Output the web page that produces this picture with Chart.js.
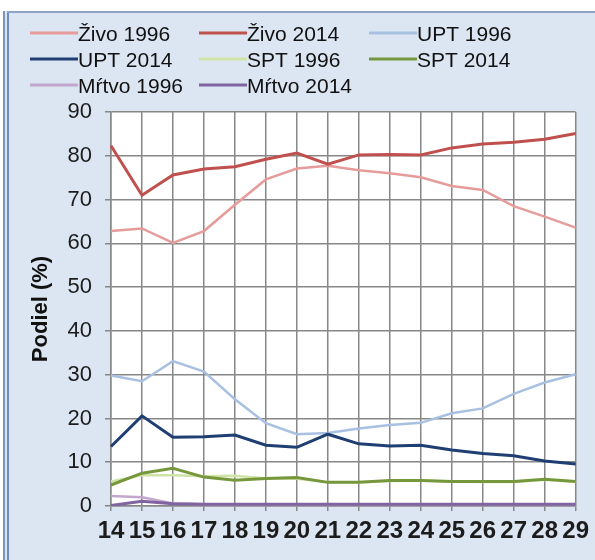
<!DOCTYPE html>
<html>
<head>
<meta charset="utf-8">
<script src="https://cdn.jsdelivr.net/npm/chart.js@4/dist/chart.umd.min.js"></script>
<style>
  html, body { margin: 0; padding: 0; background: #fff; }
  #wrap { width: 595px; height: 560px; position: relative; }
</style>
</head>
<body>
<div id="wrap"><canvas id="chart" width="595" height="560"></canvas></div>
<script>
// vek (roky) na osi x
const ages = ['14','15','16','17','18','19','20','21','22','23','24','25','26','27','28','29'];

const zivo1996  = [62.8, 63.4, 60.1, 62.8, 68.8, 74.6, 77.1, 77.7, 76.7, 76.0, 75.1, 73.1, 72.2, 68.5, 66.1, 63.6];
const zivo2014  = [82.3, 71.0, 75.6, 77.0, 77.5, 79.2, 80.6, 78.1, 80.2, 80.3, 80.2, 81.8, 82.7, 83.1, 83.8, 85.1];
const upt1996   = [29.8, 28.5, 33.1, 30.7, 24.4, 18.9, 16.4, 16.7, 17.7, 18.5, 19.0, 21.2, 22.3, 25.6, 28.2, 30.1];
const upt2014   = [13.6, 20.6, 15.7, 15.8, 16.2, 13.9, 13.4, 16.4, 14.2, 13.7, 13.9, 12.8, 12.0, 11.5, 10.3, 9.6];
const spt1996   = [5.6, 7.0, 7.0, 6.8, 6.9, 6.3, 6.2, 5.5, 5.4, 5.7, 5.8, 5.6, 5.5, 5.5, 6.0, 5.6];
const spt2014   = [4.8, 7.5, 8.6, 6.6, 5.9, 6.3, 6.5, 5.4, 5.4, 5.8, 5.8, 5.6, 5.6, 5.6, 6.1, 5.6];
const mrtvo1996 = [2.3, 2.0, 0.6, 0.4, 0.4, 0.4, 0.4, 0.4, 0.4, 0.4, 0.4, 0.4, 0.4, 0.4, 0.4, 0.4];
const mrtvo2014 = [0.1, 1.1, 0.5, 0.4, 0.4, 0.4, 0.4, 0.4, 0.4, 0.4, 0.4, 0.4, 0.4, 0.4, 0.4, 0.4];

const seriesNames = ['Živo 1996', 'Živo 2014', 'UPT 1996', 'UPT 2014', 'SPT 1996', 'SPT 2014', 'Mŕtvo 1996', 'Mŕtvo 2014'];
const seriesData = [zivo1996, zivo2014, upt1996, upt2014, spt1996, spt2014, mrtvo1996, mrtvo2014];
const colors = ['#e59c9a', '#c0504d', '#a8c0e2', '#1f3f72', '#cfe3a6', '#77973d', '#c2a6cd', '#8064a2'];
const widths = [2.5, 3, 2.5, 3, 2.5, 3, 2.5, 3];

const FONT = "'Liberation Sans', Arial, sans-serif";

// ram a svetlomodre pozadie grafu, biela plocha grafu
const framePlugin = {
  id: 'frame',
  beforeDraw(chart) {
    const c = chart.ctx;
    const a = chart.chartArea;
    c.save();
    c.fillStyle = '#ffffff';
    c.fillRect(0, 0, chart.width, chart.height);
    c.fillStyle = '#dce6f2';
    c.fillRect(3, 11, chart.width - 3, chart.height - 11);
    c.fillStyle = '#7b95c2';
    c.fillRect(3, 11, 2, chart.height - 11);
    c.fillStyle = '#6f8cbf';
    c.fillRect(7, 11, 2, chart.height - 11);
    c.fillStyle = '#8ea3c6';
    c.fillRect(7, 11, chart.width - 7, 2);
    c.fillStyle = '#ffffff';
    c.fillRect(a.left, a.top, a.right - a.left, a.bottom - a.top);
    c.restore();
  }
};

// legenda v troch stlpcoch
const legendPlugin = {
  id: 'gridLegend',
  afterDraw(chart) {
    const c = chart.ctx;
    const colX = [30, 199, 369];
    const rowY = [34, 60, 86];
    c.save();
    c.font = '21px ' + FONT;
    c.textBaseline = 'middle';
    c.fillStyle = '#111';
    chart.data.datasets.forEach((ds, i) => {
      const x = colX[i % 3];
      const y = rowY[Math.floor(i / 3)];
      c.strokeStyle = ds.borderColor;
      c.lineWidth = 3;
      c.beginPath();
      c.moveTo(x, y - 1);
      c.lineTo(x + 48, y - 1);
      c.stroke();
      c.fillText(ds.label, x + 48, y + 1);
    });
    c.restore();
  }
};

const ctx = document.getElementById('chart').getContext('2d');
const chart = new Chart(ctx, {
  type: 'line',
  data: {
    labels: ages,
    datasets: seriesData.map((d, i) => ({
      label: seriesNames[i],
      data: d,
      borderColor: colors[i],
      backgroundColor: colors[i],
      borderWidth: widths[i],
      pointRadius: 0,
      tension: 0,
      fill: false,
      order: seriesData.length - i
    }))
  },
  options: {
    responsive: false,
    animation: false,
    events: [],
    layout: { padding: { left: 8, top: 112, right: 16, bottom: 0 } },
    plugins: {
      legend: { display: false },
      tooltip: { enabled: false }
    },
    scales: {
      x: {
        offset: false,
        grid: { color: '#878787', lineWidth: 1.5, tickLength: 5, drawTicks: true },
        border: { color: '#878787', width: 1.5 },
        ticks: {
          color: '#1c1c1c',
          font: { family: FONT, size: 24, weight: 'bold' },
          padding: 6,
          maxRotation: 0,
          autoSkip: false
        },
        afterFit(scale) { scale.height = 54; }
      },
      y: {
        min: 0,
        max: 90,
        grid: { color: '#878787', lineWidth: 1.5, tickLength: 6 },
        border: { color: '#878787', width: 1.5 },
        ticks: {
          stepSize: 10,
          color: '#1c1c1c',
          font: { family: FONT, size: 22 },
          padding: 13
        },
        title: {
          display: true,
          text: 'Podiel (%)',
          color: '#111',
          font: { family: FONT, size: 22, weight: 'bold' },
          padding: { top: 20, bottom: 0 }
        },
        afterFit(scale) { scale.width = 103; }
      }
    }
  },
  plugins: [framePlugin, legendPlugin]
});
</script>
</body>
</html>
